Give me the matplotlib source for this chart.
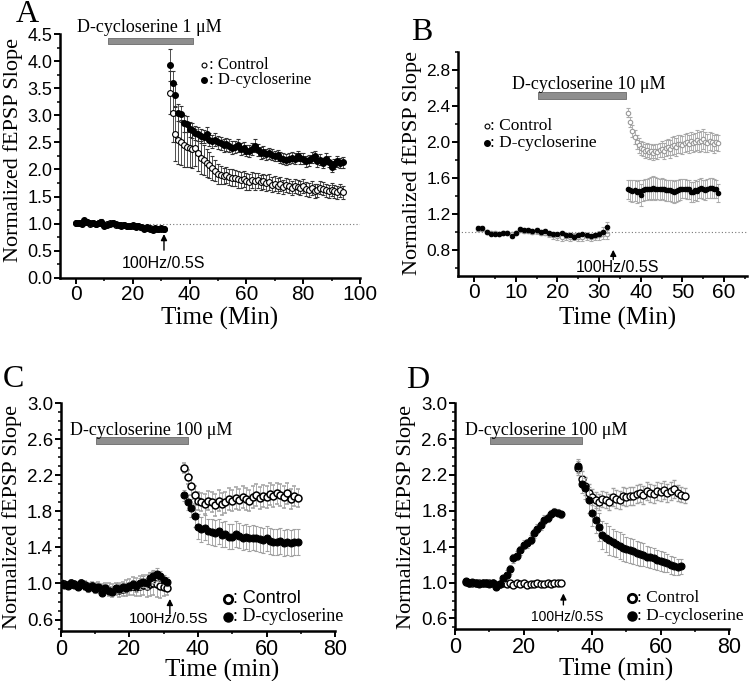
import numpy as np
import matplotlib.pyplot as plt
from matplotlib.ticker import MultipleLocator, FormatStrFormatter

SERIF = ['Liberation Serif', 'DejaVu Serif']
SANS = ['Liberation Sans', 'DejaVu Sans']

# ---------------- Panel A : D-cycloserine 1 uM ----------------
tA_pre_start, tA_post_start = 0.0, 33.0
drugA_pre = [1.02, 1.01, 1.00, 1.06, 1.04, 1.01, 1.02, 0.99, 1.01, 1.04,
             0.96, 0.98, 1.00, 1.02, 0.99, 0.97, 0.96, 0.98, 0.95, 0.96,
             0.97, 0.94, 0.96, 0.93, 0.90, 0.93, 0.91, 0.89, 0.92, 0.90,
             0.92, 0.91]
ctrlA_pre = [1.01, 1.02, 1.01, 1.04, 1.03, 1.00, 1.01, 1.00, 1.02, 1.03,
             0.97, 0.99, 1.01, 1.01, 0.98, 0.98, 0.97, 0.97, 0.96, 0.95,
             0.96, 0.95, 0.95, 0.94, 0.92, 0.92, 0.92, 0.90, 0.91, 0.91,
             0.91, 0.90]
errA_pre = [0.03, 0.03, 0.03, 0.03, 0.03, 0.03, 0.03, 0.03, 0.04, 0.04,
            0.03, 0.03, 0.03, 0.03, 0.03, 0.03, 0.03, 0.03, 0.03, 0.03,
            0.04, 0.03, 0.03, 0.04, 0.04, 0.03, 0.03, 0.04, 0.03, 0.03,
            0.03, 0.03]
drugA_post = [3.93, 3.60, 3.38, 3.05, 3.02, 2.85, 2.84, 2.74, 2.72, 2.68,
              2.65, 2.62, 2.60, 2.66, 2.55, 2.52, 2.55, 2.50, 2.48, 2.45,
              2.47, 2.44, 2.40, 2.42, 2.45, 2.38, 2.40, 2.35, 2.34, 2.38,
              2.44, 2.36, 2.30, 2.32, 2.28, 2.30, 2.27, 2.25, 2.26, 2.22,
              2.20, 2.18, 2.20, 2.22, 2.20, 2.25, 2.21, 2.20, 2.15, 2.17,
              2.22, 2.25, 2.15, 2.18, 2.12, 2.20, 2.14, 2.05, 2.10, 2.15,
              2.12, 2.13]
drugA_post_err = [0.30, 0.22, 0.20, 0.16, 0.15, 0.15, 0.14, 0.14, 0.13, 0.13,
                  0.13, 0.13, 0.12, 0.12, 0.12, 0.12, 0.12, 0.12, 0.12, 0.12,
                  0.12, 0.12, 0.12, 0.11, 0.12, 0.11, 0.11, 0.11, 0.11, 0.11,
                  0.12, 0.11, 0.11, 0.11, 0.10, 0.10, 0.10, 0.10, 0.10, 0.10,
                  0.10, 0.10, 0.10, 0.10, 0.10, 0.10, 0.10, 0.10, 0.10, 0.10,
                  0.10, 0.10, 0.10, 0.10, 0.10, 0.10, 0.10, 0.10, 0.10, 0.10,
                  0.10, 0.10]
ctrlA_post = [3.42, 3.05, 2.65, 2.55, 2.50, 2.45, 2.42, 2.40, 2.38, 2.40,
              2.30, 2.22, 2.18, 2.12, 2.08, 2.02, 1.98, 1.92, 1.90, 1.88,
              1.90, 1.86, 1.85, 1.84, 1.82, 1.80, 1.82, 1.78, 1.77, 1.80,
              1.78, 1.80, 1.76, 1.78, 1.75, 1.77, 1.72, 1.74, 1.70, 1.73,
              1.68, 1.72, 1.70, 1.66, 1.70, 1.68, 1.66, 1.70, 1.64, 1.62,
              1.65, 1.60, 1.62, 1.66, 1.64, 1.62, 1.60, 1.63, 1.60, 1.58,
              1.62, 1.58]
ctrlA_post_err = [0.40, 0.55, 0.50, 0.45, 0.42, 0.40, 0.38, 0.36, 0.35, 0.34,
                  0.32, 0.30, 0.28, 0.26, 0.24, 0.22, 0.20, 0.18, 0.16, 0.15,
                  0.15, 0.15, 0.15, 0.15, 0.16, 0.15, 0.15, 0.15, 0.15, 0.15,
                  0.15, 0.14, 0.14, 0.14, 0.14, 0.14, 0.14, 0.14, 0.14, 0.13,
                  0.13, 0.13, 0.13, 0.13, 0.13, 0.13, 0.13, 0.13, 0.13, 0.13,
                  0.13, 0.13, 0.12, 0.12, 0.12, 0.12, 0.12, 0.12, 0.12, 0.12,
                  0.12, 0.12]

# ---------------- Panel B : D-cycloserine 10 uM ----------------
tB_pre_start, tB_post_start = 1.0, 37.0
drugB_pre = [1.04, 1.04, 1.00, 0.98, 0.98, 0.98, 0.99, 0.99, 0.95, 0.99,
             1.03, 1.02, 1.02, 1.01, 1.02, 1.00, 1.01, 0.99, 0.98, 0.97,
             0.99, 0.96, 0.96, 0.94, 0.96, 0.97, 0.96, 0.95, 0.96, 0.97,
             1.00, 1.05]
drugB_pre_err = [0.02, 0.02, 0.02, 0.02, 0.02, 0.02, 0.02, 0.02, 0.02, 0.02,
                 0.02, 0.02, 0.02, 0.02, 0.02, 0.02, 0.02, 0.02, 0.02, 0.02,
                 0.02, 0.02, 0.02, 0.02, 0.02, 0.02, 0.02, 0.02, 0.03, 0.03,
                 0.05, 0.06]
ctrlB_pre = [1.03, 1.03, 1.00, 0.99, 0.99, 0.98, 0.99, 0.99, 0.98, 0.99,
             1.02, 1.01, 1.01, 1.00, 1.01, 0.99, 0.99, 0.97, 0.96, 0.95,
             0.94, 0.95, 0.94, 0.95, 0.94, 0.94, 0.95, 0.94, 0.95, 0.96,
             0.97, 0.97]
ctrlB_pre_err = [0.02, 0.02, 0.02, 0.02, 0.02, 0.02, 0.02, 0.02, 0.02, 0.02,
                 0.02, 0.02, 0.02, 0.02, 0.03, 0.03, 0.03, 0.03, 0.04, 0.04,
                 0.04, 0.04, 0.04, 0.04, 0.04, 0.04, 0.04, 0.04, 0.04, 0.05,
                 0.05, 0.05]
tB_post_step = 0.5
ctrlB_post = [2.32, 2.22, 2.12, 2.05, 2.00, 1.96, 1.93, 1.92, 1.90, 1.91,
              1.89, 1.90, 1.88, 1.90, 1.89, 1.91, 1.92, 1.90, 1.93, 1.94,
              1.92, 1.95, 1.96, 1.94, 1.97, 1.98, 1.96, 1.99, 2.00, 1.98,
              2.01, 1.99, 2.00, 2.02, 2.00, 2.01, 2.03, 2.00, 1.99, 2.01,
              2.00, 1.98, 2.00, 1.99]
ctrlB_post_err = [0.05, 0.06, 0.07, 0.08, 0.08, 0.08, 0.08, 0.08, 0.08, 0.08,
                  0.08, 0.08, 0.08, 0.08, 0.08, 0.08, 0.09, 0.09, 0.09, 0.09,
                  0.10, 0.10, 0.10, 0.10, 0.10, 0.10, 0.10, 0.10, 0.10, 0.10,
                  0.10, 0.10, 0.10, 0.11, 0.11, 0.11, 0.11, 0.11, 0.10, 0.10,
                  0.10, 0.10, 0.09, 0.09]
drugB_post = [1.47, 1.46, 1.45, 1.46, 1.44, 1.45, 1.41, 1.46, 1.47, 1.47,
              1.48, 1.48, 1.49, 1.48, 1.48, 1.47, 1.48, 1.47, 1.46, 1.46,
              1.46, 1.45, 1.44, 1.45, 1.46, 1.47, 1.48, 1.48, 1.47, 1.47,
              1.44, 1.44, 1.46, 1.45, 1.48, 1.49, 1.47, 1.46, 1.48, 1.49,
              1.49, 1.48, 1.48, 1.43]
drugB_post_err = [0.11, 0.12, 0.12, 0.12, 0.12, 0.12, 0.12, 0.12, 0.12, 0.12,
                  0.12, 0.13, 0.13, 0.13, 0.12, 0.12, 0.12, 0.12, 0.12, 0.12,
                  0.12, 0.12, 0.12, 0.12, 0.12, 0.12, 0.11, 0.11, 0.11, 0.11,
                  0.11, 0.11, 0.11, 0.11, 0.11, 0.11, 0.11, 0.11, 0.11, 0.11,
                  0.11, 0.11, 0.10, 0.10]

# ---------------- Panel C : D-cycloserine 100 uM ----------------
tC_pre_start, tC_post_start = 0.0, 36.0
drugC_pre = [0.99, 0.98, 0.97, 1.01, 0.98, 0.96, 1.01, 0.97, 0.95, 0.97,
             0.94, 0.96, 0.90, 0.95, 0.92, 0.91, 0.95, 0.94, 0.96, 0.95,
             0.97, 0.99, 0.97, 1.00, 1.02, 1.00, 1.06, 1.08, 1.10, 1.08,
             1.04, 1.02]
drugC_pre_err = [0.03, 0.03, 0.03, 0.03, 0.03, 0.03, 0.03, 0.03, 0.04, 0.04,
                 0.04, 0.04, 0.04, 0.04, 0.05, 0.05, 0.05, 0.05, 0.05, 0.05,
                 0.05, 0.05, 0.06, 0.06, 0.06, 0.06, 0.07, 0.07, 0.07, 0.06,
                 0.05, 0.05]
ctrlC_pre = [1.00, 0.99, 0.98, 1.00, 0.99, 0.97, 1.00, 0.98, 0.96, 0.97,
             0.95, 0.96, 0.93, 0.95, 0.93, 0.92, 0.94, 0.93, 0.94, 0.95,
             0.96, 0.97, 0.96, 0.97, 0.98, 0.97, 0.99, 1.00, 0.99, 0.97,
             0.96, 0.95]
ctrlC_pre_err = [0.04, 0.04, 0.04, 0.04, 0.04, 0.04, 0.04, 0.05, 0.05, 0.05,
                 0.05, 0.06, 0.06, 0.06, 0.07, 0.07, 0.07, 0.08, 0.08, 0.09,
                 0.09, 0.10, 0.10, 0.11, 0.11, 0.12, 0.13, 0.13, 0.14, 0.13,
                 0.10, 0.08]
ctrlC_post = [2.28, 2.18, 2.08, 1.98, 1.92, 1.90, 1.88, 1.92, 1.90, 1.87,
              1.92, 1.88, 1.90, 1.94, 1.92, 1.95, 1.93, 1.96, 1.94, 1.92,
              1.96, 1.98, 1.95, 1.97, 1.96, 1.99, 1.97, 2.00, 1.98, 1.96,
              2.00, 1.94, 1.97, 1.95]
ctrlC_post_err = [0.06, 0.08, 0.10, 0.10, 0.10, 0.10, 0.11, 0.11, 0.11, 0.12,
                  0.12, 0.12, 0.12, 0.12, 0.12, 0.12, 0.12, 0.12, 0.12, 0.12,
                  0.12, 0.12, 0.12, 0.12, 0.12, 0.12, 0.12, 0.12, 0.12, 0.12,
                  0.12, 0.11, 0.11, 0.10]
drugC_post = [1.98, 1.90, 1.84, 1.75, 1.63, 1.60, 1.62, 1.58, 1.57, 1.56,
              1.58, 1.54, 1.55, 1.52, 1.52, 1.55, 1.53, 1.51, 1.52, 1.50,
              1.51, 1.50, 1.49, 1.48, 1.50, 1.47, 1.46, 1.46, 1.47, 1.45,
              1.46, 1.45, 1.46, 1.46]
drugC_post_err = [0.06, 0.08, 0.10, 0.12, 0.14, 0.14, 0.14, 0.14, 0.14, 0.14,
                  0.14, 0.14, 0.14, 0.14, 0.14, 0.14, 0.14, 0.14, 0.14, 0.14,
                  0.14, 0.14, 0.14, 0.14, 0.14, 0.14, 0.14, 0.14, 0.14, 0.14,
                  0.14, 0.14, 0.14, 0.14]

# ---------------- Panel D : D-cycloserine 100 uM ----------------
tD_pre_start, tD_post_start = 3.0, 36.0
drugD_pre = [1.02, 1.00, 1.01, 0.99, 0.98, 1.00, 0.99, 0.98, 1.00, 0.95,
             0.98, 1.05, 1.09, 1.15, 1.27, 1.30, 1.36, 1.42, 1.44, 1.48,
             1.55, 1.60, 1.64, 1.70, 1.72, 1.77, 1.79, 1.78, 1.76]
drugD_pre_err = [0.02, 0.02, 0.02, 0.02, 0.02, 0.02, 0.02, 0.02, 0.02, 0.03,
                 0.03, 0.04, 0.05, 0.05, 0.05, 0.05, 0.05, 0.05, 0.05, 0.05,
                 0.05, 0.05, 0.05, 0.05, 0.05, 0.04, 0.04, 0.04, 0.04]
ctrlD_pre = [1.01, 1.00, 1.00, 0.99, 0.99, 1.00, 0.99, 0.99, 1.00, 0.97,
             0.98, 1.00, 0.98, 0.99, 0.97, 1.00, 0.98, 0.99, 0.97, 0.98,
             0.98, 0.99, 0.98, 0.98, 0.99, 0.98, 0.99, 0.99, 0.99]
ctrlD_pre_err = [0.02, 0.02, 0.02, 0.02, 0.02, 0.02, 0.02, 0.02, 0.02, 0.02,
                 0.02, 0.02, 0.02, 0.02, 0.02, 0.02, 0.02, 0.02, 0.02, 0.02,
                 0.02, 0.02, 0.02, 0.02, 0.02, 0.02, 0.02, 0.02, 0.02]
ctrlD_post = [2.28, 2.15, 2.08, 2.00, 1.95, 1.92, 1.90, 1.93, 1.92, 1.90,
              1.95, 1.93, 1.92, 1.96, 1.95, 1.97, 1.96, 1.99, 2.00, 1.98,
              2.02, 2.00, 1.99, 2.02, 2.01, 2.03, 2.00, 2.02, 2.04, 2.00,
              1.98, 1.97]
ctrlD_post_err = [0.08, 0.09, 0.10, 0.10, 0.09, 0.09, 0.09, 0.09, 0.09, 0.09,
                  0.10, 0.10, 0.10, 0.10, 0.10, 0.10, 0.10, 0.10, 0.10, 0.10,
                  0.10, 0.10, 0.10, 0.10, 0.10, 0.10, 0.10, 0.10, 0.10, 0.09,
                  0.08, 0.08]
drugD_post = [2.30, 2.10, 2.05, 1.92, 1.78, 1.70, 1.62, 1.53, 1.50, 1.47,
              1.45, 1.43, 1.41, 1.39, 1.37, 1.36, 1.35, 1.33, 1.32, 1.31,
              1.29, 1.28, 1.27, 1.25, 1.24, 1.23, 1.22, 1.20, 1.19, 1.17,
              1.18]
drugD_post_err = [0.08, 0.10, 0.12, 0.14, 0.15, 0.15, 0.16, 0.16, 0.16, 0.16,
                  0.15, 0.15, 0.15, 0.15, 0.14, 0.14, 0.14, 0.13, 0.13, 0.13,
                  0.12, 0.12, 0.12, 0.11, 0.11, 0.11, 0.10, 0.10, 0.10, 0.09,
                  0.08]

# drug application periods (min) and labels
drug_periods = [(11.2, 41.2), (15.3, 36.4), (10.4, 37.2), (10.2, 37.0)]
drug_labels = ['D-cycloserine 1 \u03bcM', 'D-cycloserine 10 \u03bcM',
               'D-cycloserine 100 \u03bcM', 'D-cycloserine 100 \u03bcM']
tetanus_times = [31.0, 33.4, 31.8, 31.6]


def times(start, vals, step=1.0):
    return start + step * np.arange(len(vals))


def style_axes(ax, xlim, ylim, xmaj, xmin, ymaj, ymin, xfs, yfs, yoff=0.0):
    ax.set_xlim(*xlim)
    ax.set_ylim(*ylim)
    for s in ['top', 'right']:
        ax.spines[s].set_visible(False)
    for s in ['left', 'bottom']:
        ax.spines[s].set_linewidth(1.8)
    ax.xaxis.set_major_locator(MultipleLocator(xmaj))
    ax.xaxis.set_minor_locator(MultipleLocator(xmin))
    ax.yaxis.set_major_locator(MultipleLocator(ymaj, offset=yoff))
    ax.yaxis.set_minor_locator(MultipleLocator(ymin))
    ax.yaxis.set_major_formatter(FormatStrFormatter('%.1f'))
    ax.tick_params(which='major', direction='out', length=4, width=1.4, pad=1.5)
    ax.tick_params(which='minor', direction='out', length=2.5, width=1.1)
    for lab in ax.get_xticklabels():
        lab.set_family(SANS)
        lab.set_fontsize(xfs)
    for lab in ax.get_yticklabels():
        lab.set_family(SANS)
        lab.set_fontsize(yfs)


def plot_series(ax, t, y, e, filled, ms, ecol, mec='k', mew=0.8, z=3):
    ax.errorbar(t, y, yerr=e, fmt='o', ls='none', ms=ms,
                mfc='k' if filled else 'white', mec=mec, mew=mew,
                ecolor=ecol, elinewidth=0.6, capsize=1.6, capthick=0.6,
                zorder=z)


def drug_bar(ax, period, y0, y1, label, tx, ty, fs):
    ax.fill_between(period, [y0, y0], [y1, y1], color='#8e8e8e',
                    edgecolor='#6a6a6a', lw=0.6, zorder=2, clip_on=False)
    ax.text(tx, ty, label, ha='center', va='center', family=SERIF, fontsize=fs)


def tetanus(ax, t, y_tip, y_base, tx, ty, fs):
    ax.annotate('', xy=(t, y_tip), xytext=(t, y_base),
                arrowprops=dict(arrowstyle='-|>', color='k', lw=1.0,
                                mutation_scale=9))
    ax.text(tx, ty, '100Hz/0.5S', ha='center', va='center', family=SANS,
            fontsize=fs)


def legend(ax, x, y1, y2, dx, fs, ms, mew, ctrl_family=SERIF, ctrl_mec='k'):
    ax.plot([x], [y1], 'o', ms=ms, mfc='white', mec=ctrl_mec, mew=mew,
            clip_on=False, zorder=5)
    ax.plot([x], [y2], 'o', ms=ms + 0.5, mfc='k', mec='k', clip_on=False,
            zorder=5)
    ax.text(x + dx, y1, ': Control', va='center', ha='left',
            family=ctrl_family, fontsize=fs)
    ax.text(x + dx, y2, ': D-cycloserine', va='center', ha='left',
            family=SERIF, fontsize=fs)


fig = plt.figure(figsize=(7.5, 6.81), dpi=100)
axA = fig.add_axes([0.080, 0.592, 0.400, 0.358])
axB = fig.add_axes([0.611, 0.595, 0.385, 0.329])
axC = fig.add_axes([0.081, 0.073, 0.366, 0.335])
axD = fig.add_axes([0.607, 0.076, 0.365, 0.332])

# ---- A ----
ax = axA
ax.plot([0, 100], [1.0, 1.0], ls=(0, (1, 2)), color='#777777', lw=0.8, zorder=1)
plot_series(ax, times(tA_pre_start, ctrlA_pre), ctrlA_pre, errA_pre, False, 4.2, '#333333')
plot_series(ax, times(tA_post_start, ctrlA_post), ctrlA_post, ctrlA_post_err, False, 4.2, '#333333')
plot_series(ax, times(tA_pre_start, drugA_pre), drugA_pre, errA_pre, True, 4.2, '#333333', z=4)
plot_series(ax, times(tA_post_start, drugA_post), drugA_post, drugA_post_err, True, 4.2, '#333333', z=4)
style_axes(ax, (-5.6, 100), (0, 4.5), 20, 10, 0.5, 0.25, 15, 13)
drug_bar(ax, drug_periods[0], 4.32, 4.43, drug_labels[0], 25.8, 4.63, 13)
tetanus(ax, tetanus_times[0], 0.86, 0.46, 31.0, 0.26, 11.5)
legend(ax, 45.0, 3.93, 3.65, 2.0, 12, 3.5, 0.8)

# ---- B ----
ax = axB
ax.plot([-3.8, 65.5], [1.0, 1.0], ls=(0, (1, 2)), color='#777777', lw=0.8, zorder=1)
plot_series(ax, times(tB_pre_start, ctrlB_pre), ctrlB_pre, ctrlB_pre_err, False, 3.2, '#aaaaaa', mec='#999999')
plot_series(ax, times(tB_post_start, ctrlB_post, tB_post_step), ctrlB_post, ctrlB_post_err, False, 3.2, '#aaaaaa', mec='#999999')
plot_series(ax, times(tB_pre_start, drugB_pre), drugB_pre, drugB_pre_err, True, 3.2, '#aaaaaa', z=4)
plot_series(ax, times(tB_post_start, drugB_post, tB_post_step), drugB_post, drugB_post_err, True, 3.2, '#aaaaaa', z=4)
style_axes(ax, (-3.8, 65.5), (0.51, 3.0), 10, 5, 0.4, 0.2, 15, 12.5)
drug_bar(ax, drug_periods[1], 2.47, 2.55, drug_labels[1], 27.4, 2.64, 13)
tetanus(ax, tetanus_times[1], 0.83, 0.66, 34.4, 0.605, 11.5)
legend(ax, 3.0, 2.17, 1.99, 0.9, 12.5, 3.5, 0.8)

# ---- C ----
ax = axC
plot_series(ax, times(tC_pre_start, ctrlC_pre), ctrlC_pre, ctrlC_pre_err, False, 5.0, '#a0a0a0', mew=1.1)
plot_series(ax, times(tC_post_start, ctrlC_post), ctrlC_post, ctrlC_post_err, False, 5.0, '#a0a0a0', mew=1.1)
plot_series(ax, times(tC_pre_start, drugC_pre), drugC_pre, drugC_pre_err, True, 5.0, '#a0a0a0', z=4)
plot_series(ax, times(tC_post_start, drugC_post), drugC_post, drugC_post_err, True, 5.0, '#a0a0a0', z=4)
style_axes(ax, (0, 80), (0.47, 3.0), 20, 10, 0.4, 0.1, 15.5, 13.5, yoff=0.2)
drug_bar(ax, drug_periods[2], 2.55, 2.62, drug_labels[2], 26.4, 2.70, 13)
tetanus(ax, tetanus_times[2], 0.86, 0.63, 31.5, 0.605, 11)
legend(ax, 48.6, 0.83, 0.63, 1.5, 13, 6.0, 2.0, ctrl_family=SANS)

# ---- D ----
ax = axD
plot_series(ax, times(tD_pre_start, ctrlD_pre), ctrlD_pre, ctrlD_pre_err, False, 5.0, '#a0a0a0', mew=1.0)
plot_series(ax, times(tD_post_start, ctrlD_post), ctrlD_post, ctrlD_post_err, False, 5.0, '#a0a0a0', mew=1.0)
plot_series(ax, times(tD_pre_start, drugD_pre), drugD_pre, drugD_pre_err, True, 5.0, '#a0a0a0', z=4)
plot_series(ax, times(tD_post_start, drugD_post), drugD_post, drugD_post_err, True, 5.0, '#a0a0a0', z=4)
style_axes(ax, (0, 80), (0.48, 3.0), 20, 10, 0.4, 0.1, 15.5, 13.5, yoff=0.2)
drug_bar(ax, drug_periods[3], 2.55, 2.62, drug_labels[3], 26.6, 2.70, 13)
tetanus(ax, tetanus_times[3], 0.91, 0.72, 32.8, 0.615, 10)
legend(ax, 51.6, 0.83, 0.63, 1.4, 12.5, 6.0, 2.0)

# axis labels and panel letters
for x, y in [(0.0178, 0.780), (0.550, 0.761), (0.0156, 0.241), (0.542, 0.241)]:
    fig.text(x, y, 'Normalized fEPSP Slope', rotation=90, ha='center',
             va='center', family=SERIF, fontsize=16)
for x, y, s in [(0.293, 0.532, 'Time (Min)'), (0.824, 0.533, 'Time (Min)'),
                (0.296, 0.015, 'Time (min)'), (0.822, 0.017, 'Time (min)')]:
    fig.text(x, y, s, ha='center', va='center', family=SERIF, fontsize=18)
for x, y, s in [(0.037, 0.978, 'A'), (0.562, 0.953, 'B'),
                (0.0178, 0.442, 'C'), (0.557, 0.441, 'D')]:
    fig.text(x, y, s, ha='center', va='center', family=SERIF, fontsize=23)

fig.savefig('out.png', dpi=100)
